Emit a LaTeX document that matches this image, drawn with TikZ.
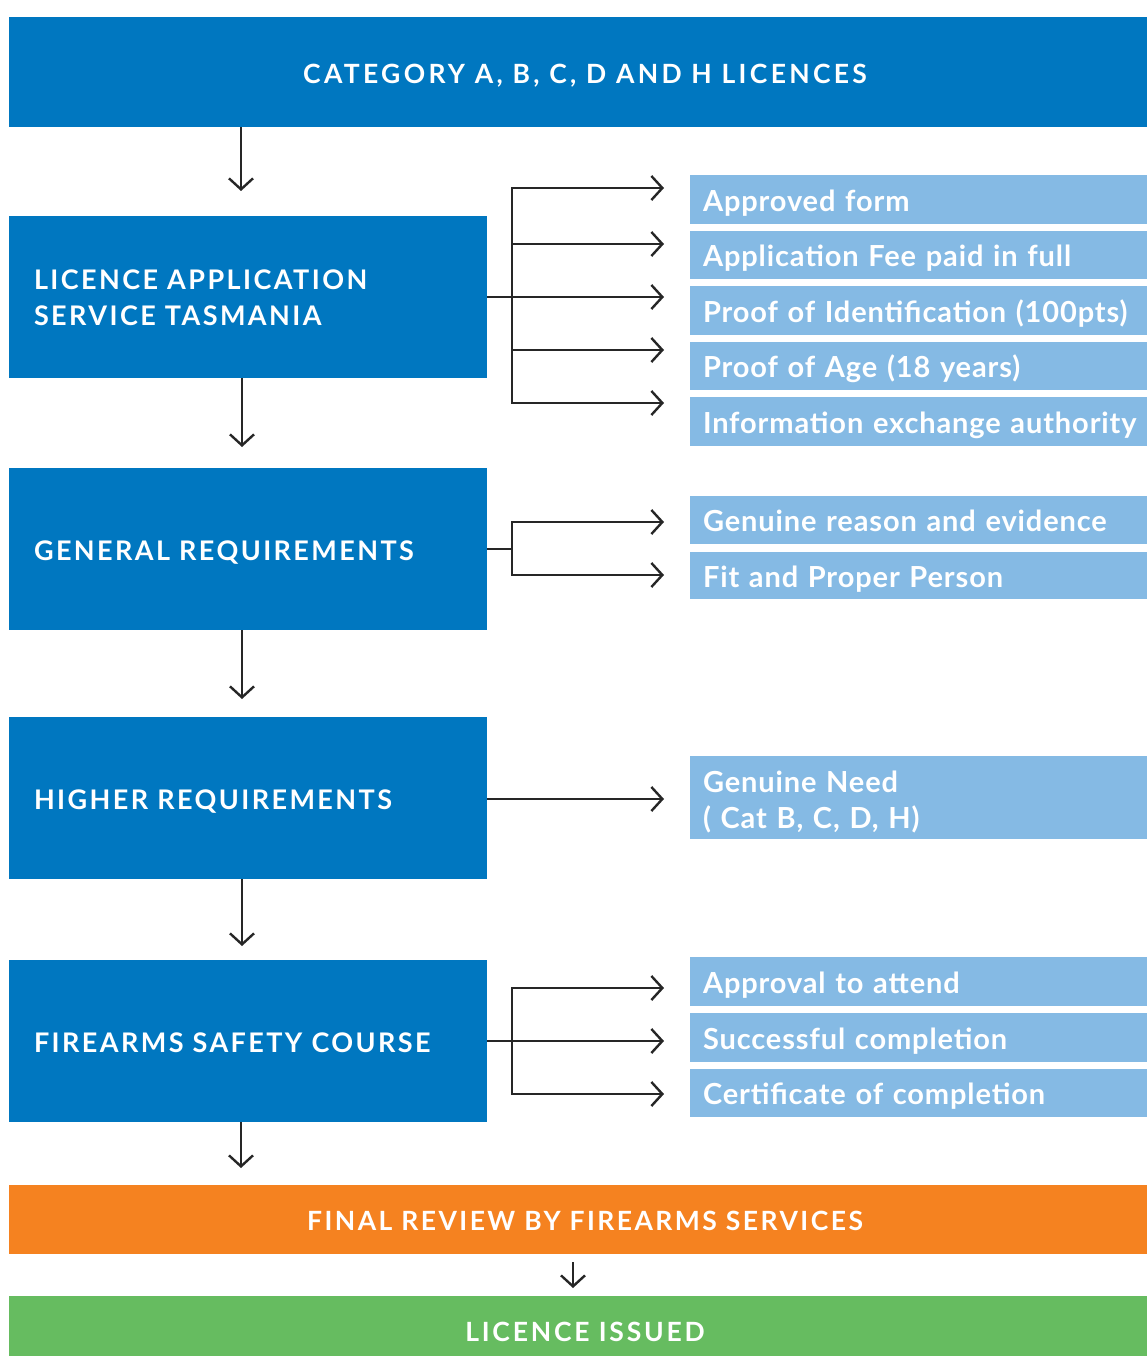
\documentclass[tikz,border=0pt]{standalone}
\usepackage{fontspec}
\setmainfont{Lato}
\usetikzlibrary{arrows.meta}
\definecolor{dblue}{RGB}{0,119,192}
\definecolor{lblue}{RGB}{133,186,228}
\definecolor{orng}{RGB}{245,130,32}
\definecolor{grn}{RGB}{102,188,96}
\tikzset{
  bigbox/.style={fill=#1, draw=none, text=white, minimum width=1138pt, inner sep=0pt},
  stepbox/.style={fill=dblue, draw=none, text=white, minimum width=478pt, minimum height=162pt,
    text width=428pt, inner xsep=25pt, inner ysep=0pt, align=left,
    text height=26pt, text depth=4pt,
    font=\fontsize{27}{36}\selectfont\bfseries\addfontfeatures{LetterSpace=9}},
  reqbox/.style={fill=lblue, draw=none, text=white, minimum width=457pt, text width=431pt,
    inner xsep=13pt, inner ysep=0pt, align=left,
    text height=26pt, text depth=2.4pt,
    font=\fontsize{29}{36}\selectfont\bfseries\addfontfeatures{LetterSpace=3}},
  arr/.style={draw=black!85, line width=2.4pt, -{Straight Barb[length=11pt,width=24pt,line width=2.4pt]}},
  ln/.style={draw=black!85, line width=2.4pt},
}
\begin{document}
\begin{tikzpicture}[x=1pt,y=-1pt]
\useasboundingbox (0,0) rectangle (1147,1356);
% main boxes
\node[bigbox=dblue, minimum height=110pt, text height=24pt, text depth=1pt,
  font=\fontsize{26.5}{30}\selectfont\bfseries\addfontfeatures{LetterSpace=12.5}]
  (top) at (578,72) {\hspace*{14pt}CATEGORY A, B, C, D AND H LICENCES};
\node[stepbox, text height=10pt, text depth=25.4pt] (s1) at (248,297) {LICENCE APPLICATION\\SERVICE TASMANIA};
\node[stepbox] (s2) at (248,549) {GENERAL REQUIREMENTS};
\node[stepbox] (s3) at (248,798) {HIGHER REQUIREMENTS};
\node[stepbox] (s4) at (248,1041) {FIREARMS SAFETY COURSE};
\node[bigbox=orng, minimum height=69pt, text height=23pt, text depth=2pt,
  font=\fontsize{26.5}{30}\selectfont\bfseries\addfontfeatures{LetterSpace=9.3}]
  (fin) at (578,1219.5) {\hspace*{14pt}FINAL REVIEW BY FIREARMS SERVICES};
\node[bigbox=grn, minimum height=60pt, text height=31pt, text depth=0.4pt,
  font=\fontsize{26.5}{30}\selectfont\bfseries\addfontfeatures{LetterSpace=10.5}]
  (iss) at (578,1326) {\hspace*{14pt}LICENCE ISSUED};
% requirement boxes
\node[reqbox, minimum height=49pt] (r1) at (918.5,199.5) {\mbox{Approved form}};
\node[reqbox, minimum height=48pt] (r2) at (918.5,255) {\mbox{Application Fee paid in full}};
\node[reqbox, minimum height=49pt] (r3) at (918.5,310.5) {\mbox{Proof of Identification (100pts)}};
\node[reqbox, minimum height=48pt] (r4) at (918.5,366) {\mbox{Proof of Age (18 years)}};
\node[reqbox, minimum height=49pt] (r5) at (918.5,421.5) {\mbox{Information exchange authority}};
\node[reqbox, minimum height=48pt] (g1) at (918.5,520) {\mbox{Genuine reason and evidence}};
\node[reqbox, minimum height=47pt] (g2) at (918.5,575.5) {\mbox{Fit and Proper Person}};
\node[reqbox, minimum height=83pt, text height=8pt, text depth=18.4pt] (h1) at (918.5,797.5) {Genuine Need\\( Cat B, C, D, H)};
\node[reqbox, minimum height=49pt] (f1) at (918.5,981.5) {\mbox{Approval to attend}};
\node[reqbox, minimum height=49pt] (f2) at (918.5,1037.5) {\mbox{Successful completion}};
\node[reqbox, minimum height=48pt] (f3) at (918.5,1093) {\mbox{Certificate of completion}};
% junctions and arrow ends
\coordinate (j1) at (512,297);
\coordinate (e11) at (664,188);
\coordinate (e12) at (664,244);
\coordinate (e13) at (664,297);
\coordinate (e14) at (664,350);
\coordinate (e15) at (664,403);
\coordinate (j2) at (512,549);
\coordinate (e21) at (664,522);
\coordinate (e22) at (664,575);
\coordinate (e31) at (664,799);
\coordinate (j4) at (512,1041);
\coordinate (e41) at (664,988);
\coordinate (e42) at (664,1041);
\coordinate (e43) at (664,1094);
% down arrow ends
\coordinate (d1) at (241,191);
\coordinate (d2) at (242,447);
\coordinate (d3) at (242,699);
\coordinate (d4) at (242,946);
\coordinate (d5) at (241,1168);
\coordinate (d6) at (573,1288);
% branches
\draw[ln] (s1.east |- j1) -- (j1);
\draw[arr] (j1) |- (e11);
\draw[arr] (j1) |- (e12);
\draw[arr] (j1) -- (e13);
\draw[arr] (j1) |- (e14);
\draw[arr] (j1) |- (e15);
\draw[ln] (s2.east |- j2) -- (j2);
\draw[arr] (j2) |- (e21);
\draw[arr] (j2) |- (e22);
\draw[arr] (s3.east |- e31) -- (e31);
\draw[ln] (s4.east |- j4) -- (j4);
\draw[arr] (j4) |- (e41);
\draw[arr] (j4) -- (e42);
\draw[arr] (j4) |- (e43);
% down arrows
\draw[arr] (top.south -| d1) -- (d1);
\draw[arr] (s1.south -| d2) -- (d2);
\draw[arr] (s2.south -| d3) -- (d3);
\draw[arr] (s3.south -| d4) -- (d4);
\draw[arr] (s4.south -| d5) -- (d5);
\draw[arr] ([yshift=-8pt]fin.south -| d6) -- (d6);
\end{tikzpicture}
\end{document}
